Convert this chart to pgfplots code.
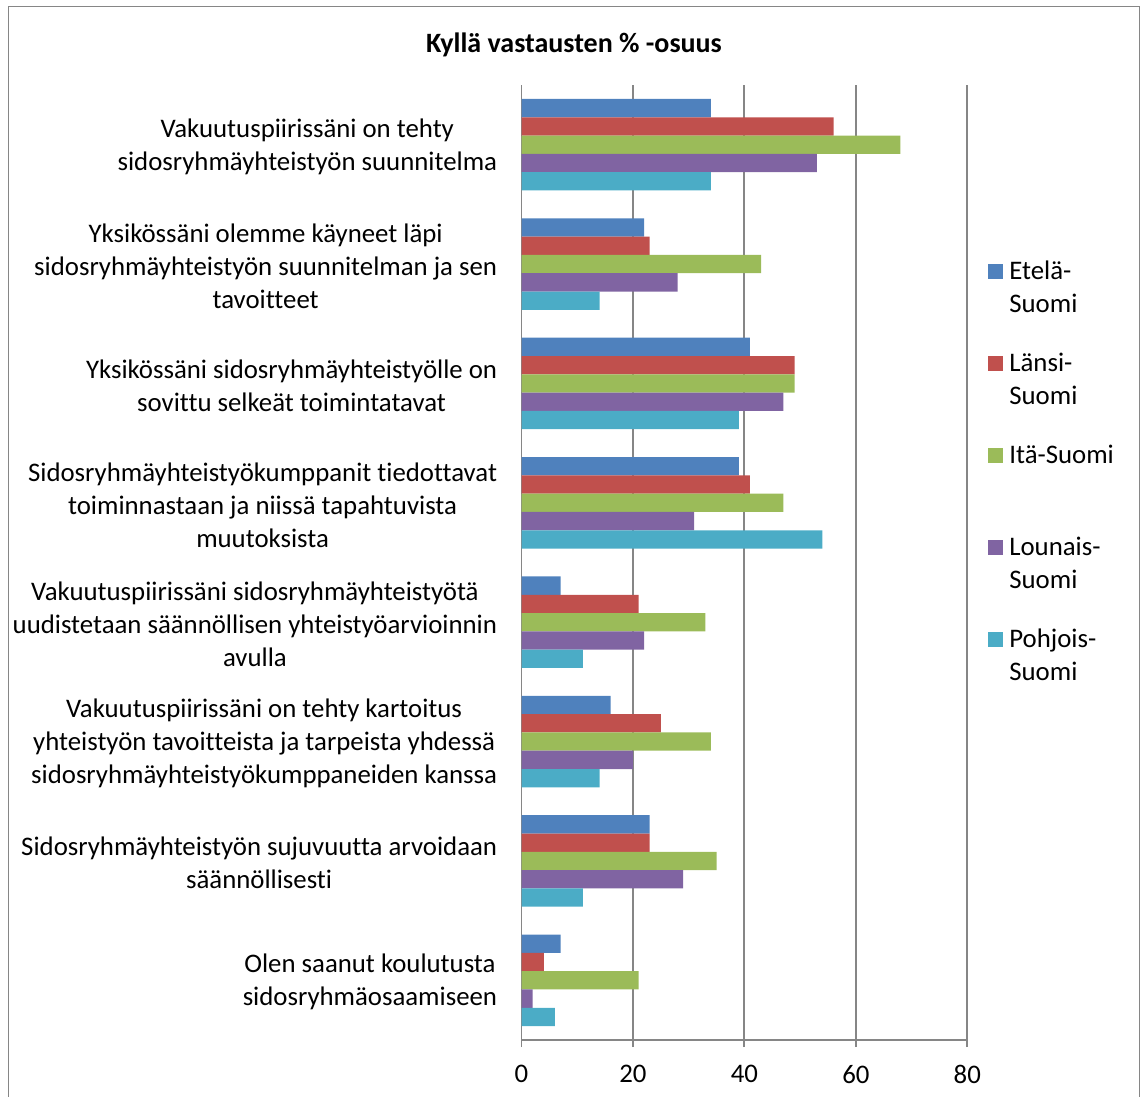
\documentclass[border=0pt]{standalone}
\usepackage{fontspec}
\setmainfont{Carlito}[Ligatures={NoCommon}]
\usepackage{pgfplots}
\pgfplotsset{compat=1.18}

\definecolor{cEtela}{HTML}{4F81BD}
\definecolor{cLansi}{HTML}{C0504D}
\definecolor{cIta}{HTML}{9BBB59}
\definecolor{cLounais}{HTML}{8064A2}
\definecolor{cPohjois}{HTML}{4BACC6}
\definecolor{gridgray}{HTML}{868686}

\newcommand{\chartfont}{\fontsize{13.4}{16.5}\selectfont}

\pgfplotsset{
  squarelegend/.style={
    legend image code/.code={\path[##1,draw=none] (0pt,4.6pt) rectangle (7.5pt,12.1pt);}
  }
}

\begin{document}
\begin{tikzpicture}
\begin{axis}[
  at={(260.75pt,-520pt)}, anchor=south west,
  scale only axis, width=222.9pt, height=477.5pt,
  xbar, bar width=9.15pt,
  xmin=0, xmax=80, ymin=-0.5, ymax=7.5,
  xtick={0,20,40,60,80},
  ytick={0,1,2,3,4,5,6,7},
  yticklabels={
    {Olen saanut koulutusta\\sidosryhmäosaamiseen},
    {Sidosryhmäyhteistyön sujuvuutta arvoidaan\\säännöllisesti},
    {Vakuutuspiirissäni on tehty kartoitus\\yhteistyön tavoitteista ja tarpeista yhdessä\\sidosryhmäyhteistyökumppaneiden kanssa},
    {Vakuutuspiirissäni sidosryhmäyhteistyötä\\uudistetaan säännöllisen yhteistyöarvioinnin\\avulla},
    {Sidosryhmäyhteistyökumppanit tiedottavat\\toiminnastaan ja niissä tapahtuvista\\muutoksista},
    {Yksikössäni sidosryhmäyhteistyölle on\\sovittu selkeät toimintatavat},
    {Yksikössäni olemme käyneet läpi\\sidosryhmäyhteistyön suunnitelman ja sen\\tavoitteet},
    {Vakuutuspiirissäni on tehty\\sidosryhmäyhteistyön suunnitelma}
  },
  axis lines*=left,
  axis line style={draw=gridgray, line width=0.9pt},
  xmajorgrids,
  grid style={draw=gridgray, line width=0.9pt},
  xtick align=outside,
  major tick length=3.5pt,
  xtick style={draw=gridgray, line width=0.9pt},
  ytick style={draw=none},
  /pgf/number format/assume math mode=true,
  tick label style={font=\chartfont, text=black},
  yticklabel style={align=center, inner sep=0pt, xshift=-8.5pt, yshift=-1pt},
  xticklabel style={inner sep=0pt, yshift=-9pt},
  legend style={
    at={(1.0464,0.8356)}, anchor=north west,
    draw=none, fill=none, inner sep=0pt,
    row sep=0pt, column sep=3pt,
    nodes={inner sep=0pt, align=left, minimum height=46pt, font=\chartfont},
  },
  legend cell align=left,
]
\addplot[fill=cEtela, draw=none, bar shift=18.3pt, squarelegend]
  coordinates {(7,0) (23,1) (16,2) (7,3) (39,4) (41,5) (22,6) (34,7)};
\addplot[fill=cLansi, draw=none, bar shift=9.15pt, squarelegend]
  coordinates {(4,0) (23,1) (25,2) (21,3) (41,4) (49,5) (23,6) (56,7)};
\addplot[fill=cIta, draw=none, bar shift=0pt, squarelegend]
  coordinates {(21,0) (35,1) (34,2) (33,3) (47,4) (49,5) (43,6) (68,7)};
\addplot[fill=cLounais, draw=none, bar shift=-9.15pt, squarelegend]
  coordinates {(2,0) (29,1) (20,2) (22,3) (31,4) (47,5) (28,6) (53,7)};
\addplot[fill=cPohjois, draw=none, bar shift=-18.3pt, squarelegend]
  coordinates {(6,0) (11,1) (14,2) (11,3) (54,4) (39,5) (14,6) (34,7)};
\legend{{Etelä-\\Suomi},{Länsi-\\Suomi},{Itä-Suomi\\\mbox{}},{Lounais-\\Suomi},{Pohjois-\\Suomi}}
\end{axis}
\begin{scope}[x=0.5pt, y=-0.5pt]
  \node[font=\bfseries\fontsize{14}{17}\selectfont, text=black] at (574,45) {Kyllä vastausten \% -osuus};
  \draw[gridgray, line width=0.7pt] (8.3,1110) -- (8.3,6.7) -- (1139.5,6.7) -- (1139.5,1110);
  \pgfresetboundingbox
  \path (0,0) rectangle (1140,1097);
\end{scope}
\end{tikzpicture}
\end{document}
